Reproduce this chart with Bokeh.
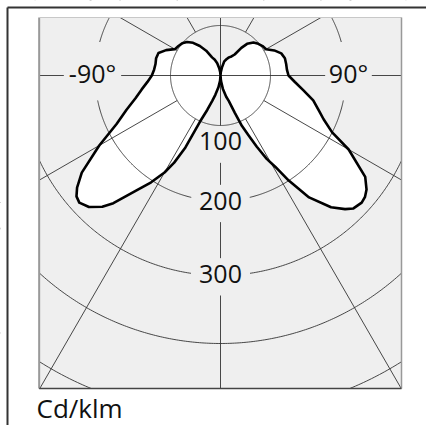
import numpy as np
from bokeh.plotting import figure
from bokeh.models import Range1d
from bokeh.core.properties import value
from bokeh.embed import file_html
from bokeh.resources import INLINE

# ---------------- data (angle from nadir in degrees, intensity in cd/klm) ----------------
angles = [-180, -175, -170, -165, -160, -155, -150, -145, -140, -135, -130, -125, -120,
          -115, -110, -105, -100, -95, -90, -85, -80, -75, -70, -65, -60, -55, -52, -50,
          -48, -45, -42, -40, -36, -33, -30, -28, -26, -24, -21, -18, -15, -10, -5,
          0,
          5, 10, 15, 18, 21, 23, 25, 27, 29, 31, 33, 36, 40, 43, 45, 48, 50, 52, 55, 60,
          63, 67, 70, 75, 80, 85, 90, 95, 100, 105, 110, 115, 120, 125, 130, 135, 140,
          143, 146, 150, 155, 160, 165, 170, 175, 180]
intensity = [0, 5, 11, 19, 25, 30, 43, 54, 64, 71, 75, 77, 79,
             90, 99, 100, 99, 100, 103, 110, 120, 132, 150, 172, 210, 254, 273, 282,
             285, 279, 265, 250, 212, 191, 168, 148, 120, 76, 55, 40, 30, 18, 8,
             0,
             8, 20, 33, 40, 60, 82, 98, 120, 143, 160, 188, 226, 258, 274, 282, 285, 283, 278,
             265, 222, 188, 168, 158, 144, 126, 112, 102, 100, 100, 100, 97, 89, 79, 77, 74,
             70, 62, 52, 38, 33, 30, 26, 22, 12, 5, 0]

ring_values = [75, 188, 300, 402, 508]
spoke_angles = [-150, -120, -60, -30, 30, 60, 120, 150]
radius_labels = ["100", "200", "300"]
radius_label_pos = [103, 192, 302]
angle_labels = ["-90°", "90°"]
angle_label_angle = [-90, 90]
angle_label_r = 192
unit_label = "Cd/klm"

# ---------------- layout constants (cd/klm units, 1.5 per pixel) ----------------
X0, X1 = -330, 309
Y0, Y1 = -525, 112.5
PL, PR, PB, PT = -272, 271.5, -469.5, 87      # plot area
FX, FY = -319.5, 102                          # outer frame (left, top)
UNIT_X, UNIT_Y = -276, -503
BG = "#efefef"
GRID = "#333333"
FONT = value("Open Sans")
LBL_HALF_W = 43        # half width of a 3-digit label gap
LBL_HALF_H = 28        # half height of a label gap on the vertical line
ANG_HALF_W = [43, 35]  # half widths of angle label gaps on horizontal line


def polar_xy(theta_deg, r):
    t = np.radians(np.asarray(theta_deg, dtype=float))
    r = np.asarray(r, dtype=float)
    return r * np.sin(t), -r * np.cos(t)


p = figure(width=426, height=425, output_backend="svg", toolbar_location=None,
           x_range=Range1d(X0, X1), y_range=Range1d(Y0, Y1),
           min_border=0, outline_line_color=None, background_fill_color="white",
           border_fill_color="white")
p.axis.visible = False
p.grid.visible = False

# plot area background
p.quad(left=[PL], right=[PR], bottom=[PB], top=[PT], fill_color=BG, line_color=None)

# lobes fill
cx, cy = polar_xy(angles, intensity)
p.patch(list(cx), list(cy), fill_color="white", line_color=None)

# rings with gaps around labels
xs, ys = [], []
for R in ring_values:
    gaps = []
    for lr in radius_label_pos:
        if abs(R - lr) < 15:
            gaps.append((0.0, np.degrees(np.arcsin(min(1.0, LBL_HALF_W / R)))))
    if abs(R - angle_label_r) < 15:
        for a in angle_label_angle:
            gaps.append((a + 2 * np.sign(a), 13.0))
    th = np.arange(-180.0, 180.5, 0.5)
    keep = np.ones_like(th, dtype=bool)
    for c, h in gaps:
        keep &= np.abs(th - c) > h
    seg = []
    for t, k in zip(th, keep):
        if k:
            seg.append(t)
        elif seg:
            if len(seg) > 1:
                x, y = polar_xy(seg, R)
                xs.append(list(x)); ys.append(list(y))
            seg = []
    if len(seg) > 1:
        x, y = polar_xy(seg, R)
        xs.append(list(x)); ys.append(list(y))
p.multi_line(xs, ys, line_color=GRID, line_width=0.9)

# spokes starting at the inner ring
sx0, sy0 = polar_xy(spoke_angles, [ring_values[0]] * len(spoke_angles))
sx1, sy1 = polar_xy(spoke_angles, [800] * len(spoke_angles))
p.segment(list(sx0), list(sy0), list(sx1), list(sy1), line_color=GRID, line_width=0.9)

# vertical axis with gaps at radius labels
vbreaks = [PT + 20]
for lr in radius_label_pos:
    vbreaks += [-(lr - LBL_HALF_H), -(lr + LBL_HALF_H)]
vbreaks.append(PB - 20)
vx, vy = [], []
for i in range(0, len(vbreaks), 2):
    vx.append([0, 0]); vy.append([vbreaks[i], vbreaks[i + 1]])
p.multi_line(vx, vy, line_color=GRID, line_width=0.9)

# horizontal axis with gaps at angle labels
hx_l = [-angle_label_r - ANG_HALF_W[0], -angle_label_r + ANG_HALF_W[0]]
hx_r = [angle_label_r - ANG_HALF_W[1], angle_label_r + ANG_HALF_W[1]]
p.multi_line([[PL - 20, hx_l[0]], [hx_l[1], hx_r[0]], [hx_r[1], PR + 20]],
             [[0, 0], [0, 0], [0, 0]], line_color=GRID, line_width=0.9)

# labels
p.text(x=[0] * len(radius_labels), y=[-r for r in radius_label_pos], text=radius_labels,
       text_font=FONT, text_font_size="25px", text_align="center",
       text_baseline="middle", text_color="#111111", y_offset=-3)
ax_, ay_ = polar_xy(angle_label_angle, [angle_label_r] * len(angle_labels))
p.text(x=list(ax_), y=list(ay_), text=angle_labels, text_font=FONT, text_font_size="25px",
       text_align="center", text_baseline="middle", text_color="#111111", y_offset=-3)

# curve outline
p.line(list(cx), list(cy), line_color="black", line_width=2.6, line_join="round")

# masks outside plot area
p.quad(left=[X0 - 10, PR, X0 - 10, X0 - 10], right=[PL, X1 + 10, X1 + 10, X1 + 10],
       bottom=[Y0 - 10, Y0 - 10, PT, Y0 - 10], top=[Y1 + 10, Y1 + 10, Y1 + 10, PB],
       fill_color="white", line_color=None)

# plot area border
p.segment([PL, PL, PR, PL], [PB, PT, PB, PB], [PL, PR, PR, PR], [PT, PT, PT, PB],
          line_color=["#999999", "#c8c8c8", "#999999", "#444444"],
          line_width=[2, 1.2, 1.5, 1.5])

# outer frame (top and left)
p.segment([FX, FX], [FY, FY], [X1 + 10, FX], [FY, Y0 - 10],
          line_color="#333333", line_width=2)

# unit label
p.text(x=[UNIT_X], y=[UNIT_Y], text=[unit_label], text_font=FONT, text_font_size="26px",
       text_align="left", text_baseline="middle", text_color="#111111", y_offset=-3)

open("out.html", "w").write(file_html(p, INLINE))
